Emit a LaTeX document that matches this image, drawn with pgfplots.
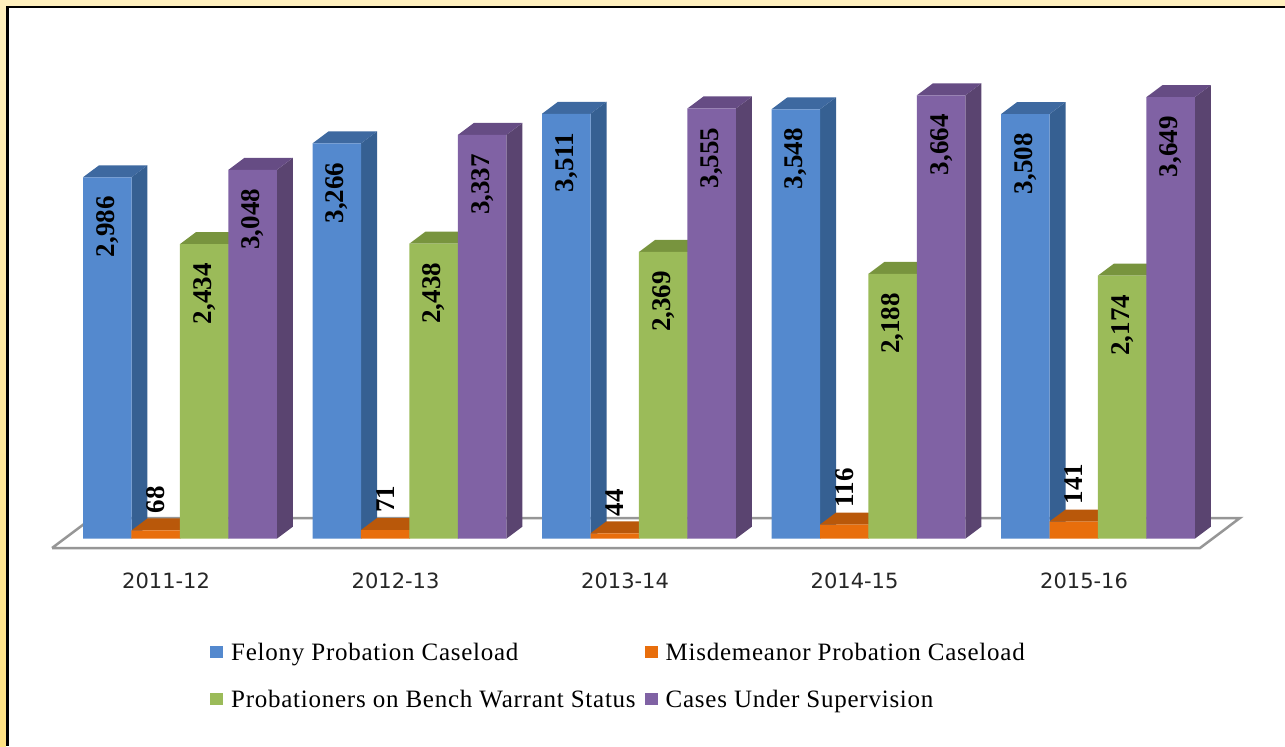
\documentclass[border=0pt]{standalone}
\usepackage{fontspec}
\setmainfont{Liberation Serif}
\newfontfamily\tickfont{DejaVu Sans}
\newfontfamily\legfont[LetterSpace=3]{Liberation Serif}
\usepackage{pgfplots}
\pgfplotsset{compat=1.18}
\usepackage{pgfplotstable}

\definecolor{cream}{RGB}{255,240,190}
\definecolor{creamlow}{RGB}{255,226,130}
\definecolor{bluef}{RGB}{84,137,206}
\definecolor{blues}{RGB}{54,96,146}
\definecolor{bluet}{RGB}{62,105,160}
\definecolor{orangef}{RGB}{232,110,12}
\definecolor{oranges}{RGB}{170,80,10}
\definecolor{oranget}{RGB}{185,88,10}
\definecolor{greenf}{RGB}{155,187,89}
\definecolor{greens}{RGB}{112,140,58}
\definecolor{greent}{RGB}{120,148,62}
\definecolor{purplef}{RGB}{128,98,164}
\definecolor{purples}{RGB}{90,68,112}
\definecolor{purplet}{RGB}{102,76,132}
\definecolor{floorgray}{RGB}{150,150,150}

% x = group index + offset inside the group; one group is 229.5 px, 1 px = 1 pt
\def\bw{0.2113}
\def\dx{0.0697}
\def\dy{99}

\pgfplotstableread{
x     felony misd bench cases
0     2986   68   2434  3048
1     3266   71   2438  3337
2     3511   44   2369  3555
3     3548   116  2188  3664
4     3508   141  2174  3649
}\caseload

% side and top face of one bar: left x, value, side colour, top colour
\newcommand{\barfaces}[4]{%
  \pgfmathsetmacro\xa{#1+\bw}%
  \pgfmathsetmacro\xb{#1+\bw+\dx}%
  \pgfmathsetmacro\xc{#1+\dx}%
  \pgfmathsetmacro\yt{#2+\dy}%
  \addplot[fill=#3,draw=none,forget plot] coordinates {(\xa,0) (\xb,\dy) (\xb,\yt) (\xa,#2)};
  \addplot[fill=#4,draw=none,forget plot] coordinates {(#1,#2) (\xc,\yt) (\xb,\yt) (\xa,#2)};
}

\pgfplotsset{
  front/.style={ybar,bar width=48.5pt,bar shift=0pt,draw=none,fill=#1,
    area legend,
    nodes near coords={\pgfmathprintnumber[fixed,precision=0,1000 sep={,},assume math mode=true]{\pgfplotspointmeta}},
    nodes near coords style={font=\fontsize{27}{27}\selectfont\bfseries,black},
    every node near coord/.append style={rotate=90,anchor=east,inner xsep=19pt,inner ysep=0pt},
  },
  squarelegend/.style={legend image code/.code={
    \fill[#1] (0pt,-6pt) rectangle (13pt,6pt);}},
}

\begin{document}
\begin{tikzpicture}
\begin{axis}[
  scale only axis,
  width=1285pt, height=746pt,
  xmin=-0.3617, xmax=5.2375,
  ymin=-1714.9, ymax=4450.4,
  axis line style={draw=none},
  axis on top,
  major tick length=0pt,
  ytick=\empty,
  xtick={0.362,1.362,2.362,3.362,4.362},
  xticklabels={2011-12,2012-13,2013-14,2014-15,2015-16},
  xticklabel style={font=\tickfont\fontsize{21}{21}\selectfont,color=black!85,anchor=center,yshift=165pt},
  clip=false,
  legend columns=2,
  legend cell align=left,
  legend style={at={(rel axis cs:0.1634,0.0472)},anchor=south west,draw=none,fill=none,
    font=\legfont\fontsize{25}{25}\selectfont,
    /tikz/column 1/.style={column sep=6pt},
    /tikz/column 2/.style={column sep=7pt},
    /tikz/column 3/.style={column sep=6pt},
    row sep=24pt,inner sep=0pt},
]
% paper frame, only top and left are in the crop
\fill[cream] ([shift={(0pt,-8pt)}]rel axis cs:0,1) rectangle (rel axis cs:1,1);
\shade[top color=cream,bottom color=creamlow] (rel axis cs:0,0) rectangle ([shift={(6pt,0pt)}]rel axis cs:0,1);
\fill[black] ([shift={(6pt,0pt)}]rel axis cs:0,0) rectangle ([shift={(9pt,-6pt)}]rel axis cs:0,1);
\fill[black] ([shift={(6pt,-8pt)}]rel axis cs:0,1) rectangle ([shift={(0pt,-6pt)}]rel axis cs:1,1);

% floor
\addplot[draw=floorgray,line width=2.5pt,fill=white,forget plot]
  coordinates {(-0.1351,-78) (0.0392,170) (5.041,170) (4.867,-78) (-0.1351,-78)};

% Felony
\barfaces{0}{2986}{blues}{bluet}
\barfaces{1}{3266}{blues}{bluet}
\barfaces{2}{3511}{blues}{bluet}
\barfaces{3}{3548}{blues}{bluet}
\barfaces{4}{3508}{blues}{bluet}
\addplot[front=bluef,squarelegend=bluef]
  table[x expr=\thisrow{x}+0.10565,y=felony] {\caseload};
\addlegendentry{Felony Probation Caseload}

% Misdemeanor
\barfaces{0.2113}{68}{oranges}{oranget}
\barfaces{1.2113}{71}{oranges}{oranget}
\barfaces{2.2113}{44}{oranges}{oranget}
\barfaces{3.2113}{116}{oranges}{oranget}
\barfaces{4.2113}{141}{oranges}{oranget}
\addplot[front=orangef,squarelegend=orangef,
  every node near coord/.append style={anchor=west,inner xsep=13pt,xshift=4pt}]
  table[x expr=\thisrow{x}+0.31695,y=misd] {\caseload};
\addlegendentry{Misdemeanor Probation Caseload}

% Bench warrant
\barfaces{0.4226}{2434}{greens}{greent}
\barfaces{1.4226}{2438}{greens}{greent}
\barfaces{2.4226}{2369}{greens}{greent}
\barfaces{3.4226}{2188}{greens}{greent}
\barfaces{4.4226}{2174}{greens}{greent}
\addplot[front=greenf,squarelegend=greenf]
  table[x expr=\thisrow{x}+0.52825,y=bench] {\caseload};
\addlegendentry{Probationers on Bench Warrant Status}

% Under supervision
\barfaces{0.6339}{3048}{purples}{purplet}
\barfaces{1.6339}{3337}{purples}{purplet}
\barfaces{2.6339}{3555}{purples}{purplet}
\barfaces{3.6339}{3664}{purples}{purplet}
\barfaces{4.6339}{3649}{purples}{purplet}
\addplot[front=purplef,squarelegend=purplef]
  table[x expr=\thisrow{x}+0.73955,y=cases] {\caseload};
\addlegendentry{Cases Under Supervision}
\end{axis}
\end{tikzpicture}
\end{document}
